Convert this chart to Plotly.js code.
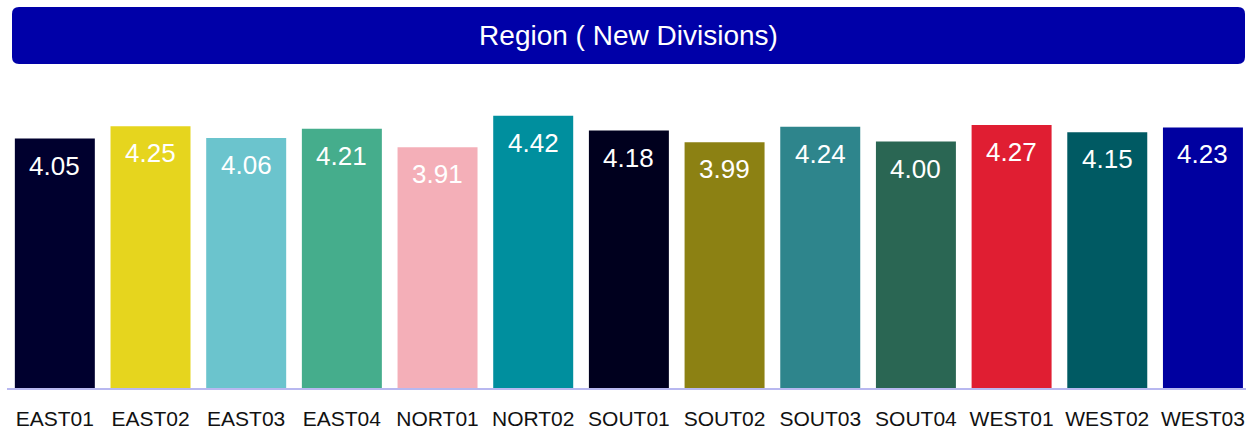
<!DOCTYPE html>
<html>
<head>
<meta charset="utf-8">
<script src="https://cdn.plot.ly/plotly-3.0.1.min.js"></script>
<style>
  html, body { margin: 0; padding: 0; background: #ffffff; }
  #chart { width: 1246px; height: 429px; }
</style>
</head>
<body>
<div id="chart"></div>
<script>
// ---- data ----
const regions = ["EAST01", "EAST02", "EAST03", "EAST04", "NORT01", "NORT02", "SOUT01", "SOUT02", "SOUT03", "SOUT04", "WEST01", "WEST02", "WEST03"];
const scores = [4.05, 4.25, 4.06, 4.21, 3.91, 4.42, 4.18, 3.99, 4.24, 4.00, 4.27, 4.15, 4.23];
const barColors = ["#00002E", "#E6D51E", "#6BC4CD", "#45AD8C", "#F4AFB8", "#008F9E", "#00001E", "#8C8113", "#2E858C", "#2A6653", "#E01E32", "#005A63", "#0000A0"];
const chartTitle = "Region ( New Divisions)";

// ---- layout constants ----
const W = 1246, H = 429;
const M = { l: 7, r: 0, t: 100, b: 41 };
const plotW = W - M.l - M.r, plotH = H - M.t - M.b;
const pxPerUnit = 61.6;
const yMax = plotH / pxPerUnit;

// banner (rounded rect) in paper coords
function px2paperX(px) { return (px - M.l) / plotW; }
function px2paperY(py) { return (H - M.b - py) / plotH; }
const bx0 = px2paperX(12), bx1 = px2paperX(1245);
const by0 = px2paperY(64), by1 = px2paperY(7);
const rx = 7 / plotW, ry = 7 / plotH;
const bannerPath =
  `M ${bx0 + rx},${by1} L ${bx1 - rx},${by1} Q ${bx1},${by1} ${bx1},${by1 - ry} ` +
  `L ${bx1},${by0 + ry} Q ${bx1},${by0} ${bx1 - rx},${by0} ` +
  `L ${bx0 + rx},${by0} Q ${bx0},${by0} ${bx0},${by0 + ry} ` +
  `L ${bx0},${by1 - ry} Q ${bx0},${by1} ${bx0 + rx},${by1} Z`;

const trace = {
  type: "bar",
  x: regions,
  y: scores,
  marker: { color: barColors, line: { width: 0 } },
  hoverinfo: "x+y",
  textposition: "none"
};

const annotations = regions.map((r, i) => ({
  x: r,
  y: scores[i],
  xref: "x",
  yref: "y",
  text: scores[i].toFixed(2),
  showarrow: false,
  yanchor: "middle",
  xanchor: "center",
  yshift: -27,
  font: { family: "Liberation Sans, Arial, sans-serif", size: 26, color: "#ffffff" }
}));

const layout = {
  width: W,
  height: H,
  margin: M,
  paper_bgcolor: "#ffffff",
  plot_bgcolor: "#ffffff",
  showlegend: false,
  bargap: 0.164,
  title: {
    text: chartTitle,
    x: 628.5 / W,
    xref: "container",
    xanchor: "center",
    y: 1 - 35.5 / H,
    yref: "container",
    yanchor: "middle",
    font: { family: "Liberation Sans, Arial, sans-serif", size: 28, color: "#ffffff" }
  },
  xaxis: {
    type: "category",
    range: [-0.5, 12.45],
    showline: true,
    linecolor: "#B8B8F0",
    linewidth: 2,
    showgrid: false,
    zeroline: false,
    ticks: "outside",
    ticklen: 11,
    tickcolor: "rgba(0,0,0,0)",
    tickfont: { family: "Liberation Sans, Arial, sans-serif", size: 21, color: "#111111" },
    fixedrange: true
  },
  yaxis: {
    range: [0, yMax],
    visible: false,
    showgrid: false,
    zeroline: false,
    fixedrange: true
  },
  shapes: [{
    type: "path",
    xref: "paper",
    yref: "paper",
    path: bannerPath,
    fillcolor: "#0000A8",
    line: { width: 0 },
    layer: "below"
  }],
  annotations: annotations
};

Plotly.newPlot("chart", [trace], layout, { displayModeBar: false, staticPlot: true });
</script>
</body>
</html>
